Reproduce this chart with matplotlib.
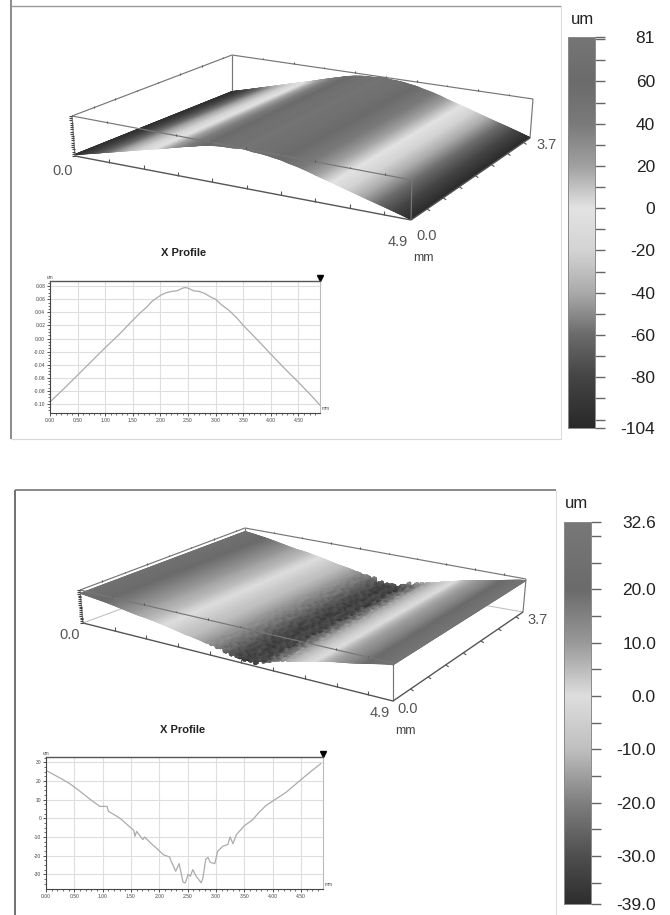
import matplotlib
matplotlib.use('Agg')
import matplotlib.pyplot as plt
from matplotlib.colors import LinearSegmentedColormap, Normalize
import numpy as np

plt.rcParams['font.family'] = ['Liberation Sans', 'DejaVu Sans']

W, H = 670, 915

# profile (mm, um)
x_top = [0, .25, .5, .75, 1.0, 1.25, 1.5, 1.65, 1.75, 1.85, 2.0, 2.1, 2.2, 2.3, 2.4, 2.45, 2.5, 2.55, 2.6,
         2.7, 2.8, 2.9, 3.0, 3.1, 3.25, 3.4, 3.5, 3.75, 4.0, 4.25, 4.5, 4.75, 4.89]
z_top = [-97, -77, -56, -35, -14, 6, 28, 40.5, 48, 57, 66, 70, 72, 73, 77, 78, 77, 75, 73,
         72, 69, 64, 60, 52, 42.5, 30, 20, -1.5, -24, -46, -67, -89, -102]

# profile (mm, um)
x_bot = [0, .25, .42, .60, .77, .95, 1.08, 1.10, 1.30, 1.48, 1.55, 1.57, 1.60, 1.71, 1.74, 1.86, 1.98, 2.07,
         2.18, 2.21, 2.29, 2.35, 2.42, 2.46, 2.51, 2.55, 2.59, 2.65, 2.74, 2.77, 2.82, 2.86, 2.90, 2.98,
         3.03, 3.12, 3.21, 3.25, 3.30, 3.36, 3.50, 3.65, 3.74, 3.88, 4.06, 4.24, 4.50, 4.71, 4.85]
z_bot = [25.7, 21.6, 18.6, 14.5, 10.4, 6.4, 6.4, 3.8, 0.2, -4.6, -6.5, -9.6, -7, -11.4, -10, -13.6, -16.8, -19.5,
         -20.7, -23, -28.4, -24.3, -34.3, -34.6, -30, -31, -27.5, -31, -34.6, -32, -22, -21, -23.6, -24.3,
         -17.7, -15, -14, -10, -13.6, -8.8, -4, -0.7, 2.5, 6.8, 10.4, 14, 20.7, 26, 29.3]

# mottling of the valley in the lower surface, um
mottle = [[0, 2, -3, 4, -2, 3, -4, 1, 5, -3, 2, -2, 3, 0],
          [2, -3, 4, -1, 5, -4, 2, -5, 1, 4, -3, 3, -1, 2],
          [-2, 4, 1, -5, 2, 6, -3, 3, -4, 0, 5, -2, 1, -3],
          [3, -1, -4, 3, -3, 1, 5, -2, 4, -5, 1, 3, -4, 1],
          [-1, 3, 2, -2, 5, -4, 0, 4, -3, 3, -4, 2, 2, -2],
          [2, -4, 3, 4, -3, 2, -5, 3, 2, -2, 4, -3, -1, 3],
          [-3, 1, -2, 5, 1, -3, 4, -4, 5, 1, -2, 4, -3, 0],
          [1, 3, -3, -1, 4, 2, -2, 5, -3, 3, 2, -4, 2, -1]]

# grey scale stops: value, grey level
stops_top = [-104, -80, -60, -40, -20, 0, 20, 40, 60, 81]
grey_top = [.16, .27, .42, .67, .83, .89, .63, .48, .42, .46]
stops_bot = [-39, -30, -20, -10, 0, 10, 20, 32.6]
grey_bot = [.18, .31, .50, .75, .87, .60, .42, .47]

ticks_top = [81, 80, 70, 60, 50, 40, 30, 20, 10, 0, -10, -20, -30, -40, -50, -60, -70, -80, -90, -100, -104]
labels_top = {81: '81', 60: '60', 40: '40', 20: '20', 0: '0', -20: '-20', -40: '-40', -60: '-60', -80: '-80',
              -104: '-104'}
ticks_bot = [32.6, 30, 25, 20, 15, 10, 5, 0, -5, -10, -15, -20, -25, -30, -35, -39]
labels_bot = {32.6: '32.6', 20: '20.0', 10: '10.0', 0: '0.0', -10: '-10.0', -20: '-20.0', -30: '-30.0',
              -39: '-39.0'}

prof_xticks = [0, .5, 1, 1.5, 2, 2.5, 3, 3.5, 4, 4.5]
prof_xlabels = ['0.00', '0.50', '1.00', '1.50', '2.00', '2.50', '3.00', '3.50', '4.00', '4.50']
prof_yticks_top = [.08, .06, .04, .02, 0, -.02, -.04, -.06, -.08, -.10]
prof_ylabels_top = ['0.08', '0.06', '0.04', '0.02', '0.00', '-0.02', '-0.04', '-0.06', '-0.08', '-0.10']
prof_yticks_bot = [30, 20, 10, 0, -10, -20, -30]
prof_ylabels_bot = ['30', '20', '10', '0', '-10', '-20', '-30']

LEN_X, LEN_Y = 4.89, 3.7


def make_cmap(stops, grey):
    lo, hi = stops[0], stops[-1]
    return LinearSegmentedColormap.from_list(
        'g', [((s - lo) / (hi - lo), (g, g, g)) for s, g in zip(stops, grey)], N=512)


def pt(base, top, xmm, ymm, w):
    # corners are front-left, front-right, back-right, back-left
    u = np.asarray(xmm) / LEN_X
    v = np.asarray(ymm) / LEN_Y
    out = []
    for k in range(2):
        b = (1-u)*(1-v)*base[0][k] + u*(1-v)*base[1][k] + u*v*base[2][k] + (1-u)*v*base[3][k]
        t = (1-u)*(1-v)*top[0][k] + u*(1-v)*top[1][k] + u*v*top[2][k] + (1-u)*v*top[3][k]
        out.append(b + (t-b)*w)
    return out


def seg(ax, p, q, z=3, c='#777777', lw=0.85):
    ax.plot([p[0], q[0]], [p[1], q[1]], color=c, lw=lw, zorder=z, solid_capstyle='butt')


def surface(ax, base, top, xs, zs, zlo, zhi, cmap, rough=None):
    xf = np.linspace(0, LEN_X, 400)
    yf = np.linspace(0, LEN_Y, 90)
    prof = np.interp(xf, xs, zs)
    if rough is not None:
        # the surface shows blotches, not the streaks of the single profile
        pad = np.pad(prof, 8, mode='edge')
        prof = np.convolve(pad, np.ones(17) / 17, mode='valid')
    Z = np.tile(prof, (len(yf), 1))
    if rough is not None:
        rough = np.array(rough, dtype=float)
        for j in range(len(yf)):
            r = rough[(j // 2) % rough.shape[0]]
            for i in range(len(xf)):
                if 1.9 < xf[i] < 3.3:
                    k = (int(xf[i] * 23) + j // 2 * 5 + j // 7) % rough.shape[1]
                    Z[j, i] += r[k] * min(1, (xf[i]-1.9)/.4, (3.3-xf[i])/.4)
    XX, YY = np.meshgrid(xf, yf)
    PX, PY = pt(base, top, XX, YY, (Z - zlo) / (zhi - zlo))
    ax.pcolormesh(PX, PY, Z, cmap=cmap, norm=Normalize(zlo, zhi), shading='gouraud', zorder=2, rasterized=True)


def box(ax, base, top, zlo, zhi):
    # back lines go under the surface, front lines over it
    seg(ax, top[3], top[0], 1)
    seg(ax, top[3], top[2], 1)
    seg(ax, base[3], base[0], 1, '#bbbbbb', .7)
    seg(ax, base[3], base[2], 1, '#bbbbbb', .7)
    seg(ax, base[3], top[3], 1)
    seg(ax, base[2], top[2], 1)
    seg(ax, top[0], top[1], 3)
    seg(ax, base[0], top[0], 3)
    seg(ax, base[1], top[1], 3)
    seg(ax, base[0], base[1], 3, '#555555', 1.0)
    seg(ax, base[1], base[2], 3, '#555555', 1.0)
    for xm in np.arange(.5, LEN_X, .5):
        p = pt(base, top, xm, 0, 0)
        seg(ax, p, (p[0], p[1]-4), 3, '#555555', .8)
        for w, y0 in ((1, 0), (1, LEN_Y)):
            q = pt(base, top, xm, y0, w)
            seg(ax, q, (q[0], q[1]-1.5), 3 if y0 == 0 else 1, '#555555', .8)
    for ym in np.arange(.5, LEN_Y, .5):
        p = pt(base, top, LEN_X, ym, 0)
        seg(ax, p, (p[0]+3, p[1]+2), 3, '#555555', .8)
        q = pt(base, top, 0, ym, 1)
        seg(ax, q, (q[0], q[1]-1.5), 1, '#555555', .8)
    for w in np.arange(0, 1.01, 1 / 18):
        p = pt(base, top, 0, 0, w)
        seg(ax, (p[0]-3, p[1]), p, 3, '#444444', .8)


def colorbar(left, right, ytop, ybot, stops, cmap, ticks, labels, label_right):
    ax = fig.add_axes([left / W, 1 - ybot / H, (right - left) / W, (ybot - ytop) / H])
    lo, hi = stops[0], stops[-1]
    grad = np.linspace(hi, lo, 400).reshape(-1, 1)
    ax.imshow(grad, cmap=cmap, norm=Normalize(lo, hi), aspect='auto', extent=[0, 1, lo, hi])
    ax.set_xticks([])
    ax.yaxis.tick_right()
    ax.set_yticks(ticks)
    ax.set_yticklabels([labels.get(t, '') for t in ticks], ha='right', fontsize=12.5, color='#222222')
    ax.tick_params(axis='y', length=7.5, width=1, color='#666666', pad=(label_right - right) * .72 - 7.5)
    for s in ax.spines.values():
        s.set_color('#8a8a8a')
        s.set_linewidth(.7)


def profile(left, right, ytop, ybot, xs, zs, ylim, yticks, ylabels, yminor):
    ax = fig.add_axes([left / W, 1 - ybot / H, (right - left) / W, (ybot - ytop) / H])
    ax.plot(xs, zs, color='#ababab', lw=.9)
    ax.set_xlim(0, LEN_X)
    ax.set_ylim(*ylim)
    ax.set_xticks(prof_xticks)
    ax.set_xticklabels(prof_xlabels)
    ax.set_yticks(yticks)
    ax.set_yticklabels(ylabels)
    ax.set_xticks(np.arange(0, LEN_X, .1), minor=True)
    ax.set_yticks(yminor, minor=True)
    ax.tick_params(axis='both', which='major', labelsize=3.6, length=2.5, width=.6, pad=1, color='#333333',
                   labelcolor='#444444')
    ax.tick_params(axis='both', which='minor', length=1.2, width=.5, color='#333333')
    ax.grid(True, which='major', color='#dedede', lw=.8)
    ax.set_axisbelow(True)
    ax.spines['top'].set_color('#555555')
    ax.spines['top'].set_linewidth(1.0)
    ax.spines['bottom'].set_color('#444444')
    ax.spines['left'].set_color('#444444')
    ax.spines['right'].set_color('#bbbbbb')
    ax.text(0, 1.005, 'um', transform=ax.transAxes, fontsize=3.4, ha='center', va='bottom', color='#444444')
    ax.text(1.005, .035, 'mm', transform=ax.transAxes, fontsize=3.4, ha='left', va='center', color='#444444')
    ax.plot([1], [1.025], marker='v', ms=5, color='black', transform=ax.transAxes, clip_on=False)


fig = plt.figure(figsize=(W / 100, H / 100), dpi=100)
bg = fig.add_axes([0, 0, 1, 1])
bg.set_xlim(0, W)
bg.set_ylim(H, 0)
bg.axis('off')

# outer frames
seg(bg, (11, 0), (11, 439), 1, '#777777', 1.2)
seg(bg, (11, 6), (561, 6), 1, '#999999', 1.0)
seg(bg, (561, 6), (561, 439), 1, '#dddddd', .8)
seg(bg, (11, 439), (561, 439), 1, '#d8d8d8', .9)
seg(bg, (15, 490), (15, 915), 1, '#666666', 1.3)
seg(bg, (15, 490), (556, 490), 1, '#777777', 1.2)
seg(bg, (556, 490), (556, 915), 1, '#dddddd', .8)

# upper 3d view
cmap_top = make_cmap(stops_top, grey_top)
base_a = [(75, 156), (411, 220), (530, 138), (232, 93)]
top_a = [(72, 116), (412, 180), (533, 99), (232, 55)]
surface(bg, base_a, top_a, x_top, z_top, -104, 81, cmap_top)
box(bg, base_a, top_a, -104, 81)

# lower 3d view
cmap_bot = make_cmap(stops_bot, grey_bot)
base_b = [(83, 623), (393, 701), (523, 612), (245, 563)]
top_b = [(80, 590), (393, 663), (526, 579), (245, 528)]
surface(bg, base_b, top_b, x_bot, z_bot, -39, 32.6, cmap_bot, mottle)
box(bg, base_b, top_b, -39, 32.6)

txt = dict(color='#555555', fontsize=10.5, ha='center', va='center')
bg.text(63, 171, '0.0', **txt)
bg.text(398, 242, '4.9', **txt)
bg.text(427, 236, '0.0', **txt)
bg.text(547, 145, '3.7', **txt)
bg.text(423, 258, 'mm', color='#444444', fontsize=9, ha='center', va='center')
bg.text(70, 635, '0.0', **txt)
bg.text(380, 713, '4.9', **txt)
bg.text(408, 709, '0.0', **txt)
bg.text(538, 620, '3.7', **txt)
bg.text(405, 731, 'mm', color='#444444', fontsize=9, ha='center', va='center')
bg.text(184, 253, 'X Profile', color='#222222', fontsize=8, fontweight='bold', ha='center', va='center')
bg.text(183, 730, 'X Profile', color='#222222', fontsize=8, fontweight='bold', ha='center', va='center')
bg.text(582, 19, 'um', color='#222222', fontsize=12, ha='center', va='center')
bg.text(577, 503, 'um', color='#222222', fontsize=12, ha='center', va='center')

colorbar(568, 595, 37, 428, stops_top, cmap_top, ticks_top, labels_top, 655)
colorbar(564, 591, 522, 904, stops_bot, cmap_bot, ticks_bot, labels_bot, 656)

profile(50, 320, 281, 413, x_top, np.array(z_top) / 1000, (-.114, .088), prof_yticks_top, prof_ylabels_top,
        np.arange(-.11, .088, .005))
profile(46, 323, 757, 889, x_bot, z_bot, (-37.9, 32.9), prof_yticks_bot, prof_ylabels_bot,
        np.arange(-35, 32.9, 2.5))

fig.savefig('out.png', dpi=100)
